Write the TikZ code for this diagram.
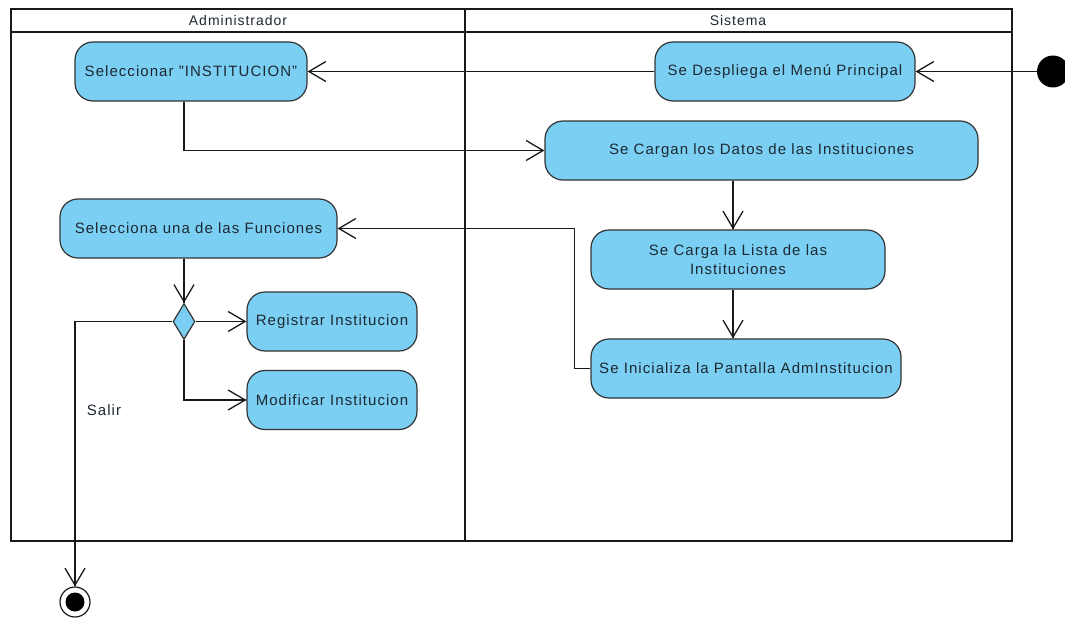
\documentclass[tikz,border=0pt]{standalone}
\usepackage{fontspec}
\setmainfont{Liberation Sans}[LetterSpace=7]
\usetikzlibrary{arrows.meta,shapes.geometric}
\definecolor{actblue}{RGB}{122,207,243}
\definecolor{txt}{RGB}{30,40,50}
\tikzset{
  act/.style={draw=black!80, fill=actblue, rounded corners=18pt, line width=1.2pt,
    inner sep=0pt, align=center, font=\fontsize{15}{19}\selectfont, text=txt},
  pool/.style={draw=black!90, line width=2.6pt},
  flow/.style={draw=black!90, line width=1.3pt, -{Straight Barb[length=17pt,width=20pt,line width=1.3pt]},
    postaction={draw=black!90, line width=1.3pt, -}},
  lbl/.style={font=\fontsize{15}{18}\selectfont, text=txt},
  hdr/.style={font=\fontsize{14}{16}\selectfont, text=txt}
}
\begin{document}
\begin{tikzpicture}[x=1pt,y=-1pt]
\useasboundingbox (0,0) rectangle (1065,618);
% pool
\draw[pool] (11,9) rectangle (1012,541);
\draw[pool] (11,32) -- (1012,32);
\draw[pool] (465,9) -- (465,541);
\node[hdr] (hadm) at (238,20.5) {Administrador};
\node[hdr] (hsis) at (738,20.5) {Sistema};
% nodes
\node[act, minimum width=232pt, minimum height=59pt] (sel) at (191,71.5) {Seleccionar "INSTITUCION"};
\node[act, minimum width=260pt, minimum height=59pt] (menu) at (785,71.5) {Se Despliega el Menú Principal};
\node[circle, fill=black, minimum size=32pt, inner sep=0pt] (init) at (1053,71.5) {};
\node[act, minimum width=433pt, minimum height=59pt] (carg) at (761.5,150.5) {Se Cargan los Datos de las Instituciones};
\node[act, minimum width=294pt, minimum height=59pt] (lista) at (738,259.5) {Se Carga la Lista de las\\Instituciones};
\node[act, minimum width=310pt, minimum height=59pt] (ini) at (746,368.5) {Se Inicializa la Pantalla AdmInstitucion};
\node[act, minimum width=277pt, minimum height=59pt] (selfun) at (198.5,228.5) {Selecciona una de las Funciones};
\node[diamond, draw=black!80, fill=actblue, line width=1.2pt, inner sep=0pt, minimum width=22pt, minimum height=36pt] (dec) at (184,321.5) {};
\node[act, minimum width=170pt, minimum height=59pt] (reg) at (332,321.5) {Registrar Institucion};
\node[act, minimum width=170pt, minimum height=59pt] (mod) at (332,400) {Modificar Institucion};
\node[lbl] (salir) at (104,410) {Salir};
\node[circle, draw=black!90, line width=1.2pt, minimum size=30pt, inner sep=0pt] (fin) at (75,602) {};
\fill[black] (fin.center) circle (9.5pt);
% flows
\draw[flow] (init.west) -- (menu.east);
\draw[flow] (menu.west) -- (sel.east);
\draw[flow] (sel.south -| dec.north) |- (carg.west);
\draw[flow] ([xshift=-5pt]carg.south -| lista.north) -- ([xshift=-5pt]lista.north);
\draw[flow] ([xshift=-5pt]lista.south) -- ([xshift=-5pt]ini.north -| lista.south);
\draw[flow] (ini.west) -- ++(-16,0) |- (selfun.east);
\draw[flow] (selfun.south -| dec.north) -- (dec.north);
\draw[flow] (dec.east) -- (reg.west);
\draw[flow] (dec.south) |- (mod.west);
\draw[flow] (dec.west) -| (fin.north);
\end{tikzpicture}
\end{document}
